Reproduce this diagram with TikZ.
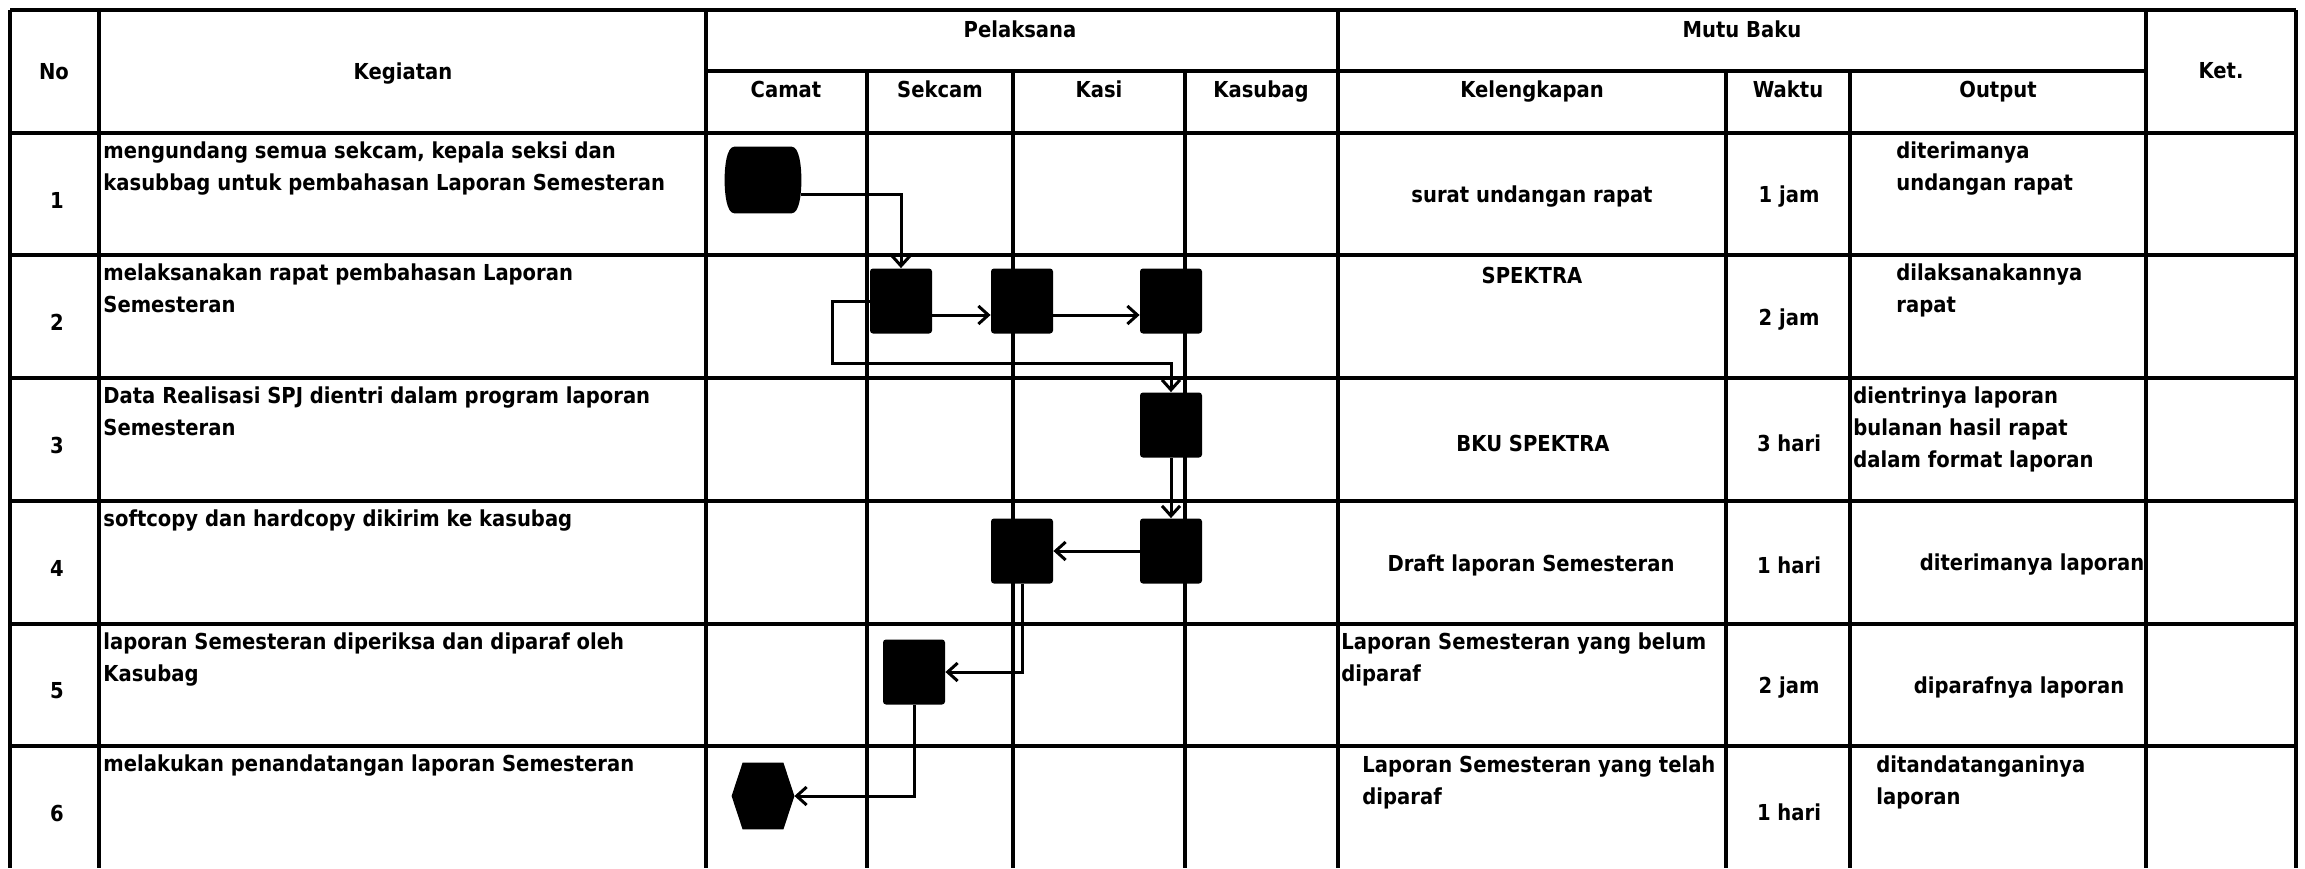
\documentclass[tikz,border=0pt]{standalone}
\usepackage{fontspec}
\setmainfont{DejaVu Sans}[FakeStretch=0.89]
\usetikzlibrary{arrows.meta}
\begin{document}
\begin{tikzpicture}[x=0.5pt,y=-0.5pt,
  grid/.style={line width=2pt},
  txt/.style={font=\fontsize{11}{16}\selectfont\bfseries, inner sep=0pt},
  btxt/.style={txt, anchor=base},
  ltxt/.style={txt, anchor=north west, align=left},
  stepbox/.style={rectangle, fill=black, rounded corners=1.5pt, minimum width=31pt, minimum height=32.5pt, inner sep=0pt},
  flow/.style={line width=1.5pt, -{Straight Barb[length=5pt,width=9pt]}},
]
\fill[white] (0,0) rectangle (2305,868);
\useasboundingbox (0,0) rectangle (2305,868);

% ---- table grid ----
\draw[grid] (10,10) -- (2296,10);
\draw[grid] (706,71) -- (2146,71);
\foreach \y in {133,255,378,501,624,746} \draw[grid] (10,\y) -- (2296,\y);
\foreach \x in {10,99,706,1338,2146,2296} \draw[grid] (\x,10) -- (\x,868);
\foreach \x in {867,1013,1185,1726,1850} \draw[grid] (\x,71) -- (\x,868);

% ---- header ----
\node[btxt] (hNo) at (54,79) {No};
\node[btxt] (hKeg) at (403,79) {Kegiatan};
\node[btxt] (hPel) at (1020,37) {Pelaksana};
\node[btxt] (hMutu) at (1742,37) {Mutu Baku};
\node[btxt] (hKet) at (2221,78) {Ket.};
\node[btxt] (hCamat) at (786,97) {Camat};
\node[btxt] (hSekcam) at (940,97) {Sekcam};
\node[btxt] (hKasi) at (1099,97) {Kasi};
\node[btxt] (hKasubag) at (1261,97) {Kasubag};
\node[btxt] (hKel) at (1532,97) {Kelengkapan};
\node[btxt] (hWaktu) at (1788,97) {Waktu};
\node[btxt] (hOut) at (1998,97) {Output};

% ---- numbers ----
\node[txt] (n1) at (57,200) {1};
\node[txt] (n2) at (57,322) {2};
\node[txt] (n3) at (57,445) {3};
\node[txt] (n4) at (57,568) {4};
\node[txt] (n5) at (57,691) {5};
\node[txt] (n6) at (57,813) {6};

% ---- kegiatan ----
\node[ltxt] (k1t) at (103,141) {mengundang semua sekcam, kepala seksi dan\\kasubbag untuk pembahasan Laporan Semesteran};
\node[ltxt] (k2t) at (103,263) {melaksanakan rapat pembahasan Laporan\\Semesteran};
\node[ltxt] (k3t) at (103,386) {Data Realisasi SPJ dientri dalam program laporan\\Semesteran};
\node[ltxt] (k4t) at (103,509) {softcopy dan hardcopy dikirim ke kasubag};
\node[ltxt] (k5t) at (103,632) {laporan Semesteran diperiksa dan diparaf oleh\\Kasubag};
\node[ltxt] (k6t) at (103,754) {melakukan penandatangan laporan Semesteran};

% ---- kelengkapan ----
\node[txt] (l1) at (1532,197) {surat undangan rapat};
\node[txt] (l2) at (1532,275) {SPEKTRA};
\node[txt] (l3) at (1533,443) {BKU SPEKTRA};
\node[txt] (l4) at (1531,565) {Draft laporan Semesteran};
\node[ltxt] (l5) at (1341,632) {Laporan Semesteran yang belum\\diparaf};
\node[ltxt] (l6) at (1362,755) {Laporan Semesteran yang telah\\diparaf};

% ---- waktu ----
\node[txt] (w1) at (1789,197) {1 jam};
\node[txt] (w2) at (1789,320) {2 jam};
\node[txt] (w3) at (1789,443) {3 hari};
\node[txt] (w4) at (1789,565) {1 hari};
\node[txt] (w5) at (1789,688) {2 jam};
\node[txt] (w6) at (1789,812) {1 hari};

% ---- output ----
\node[ltxt] (o1) at (1896,141) {diterimanya\\undangan rapat};
\node[ltxt] (o2) at (1896,263) {dilaksanakannya\\rapat};
\node[ltxt] (o3) at (1853,386) {dientrinya laporan\\bulanan hasil rapat\\dalam format laporan};
\node[txt] (o4) at (2032,565) {diterimanya laporan};
\node[txt] (o5) at (2019,688) {diparafnya laporan};
\node[ltxt] (o6) at (1876,755) {ditandatanganinya\\laporan};

% ---- flow shapes ----
\node[minimum width=38pt, minimum height=33pt, inner sep=0pt] (start) at (763,180) {};
\fill ([xshift=5pt]start.north west) -- ([xshift=-5pt]start.north east)
  .. controls ([xshift=-1pt]start.north east) and ([yshift=7pt]start.east) .. (start.east)
  .. controls ([yshift=-7pt]start.east) and ([xshift=-1pt]start.south east) .. ([xshift=-5pt]start.south east)
  -- ([xshift=5pt]start.south west)
  .. controls ([xshift=1pt]start.south west) and ([yshift=-7pt]start.west) .. (start.west)
  .. controls ([yshift=7pt]start.west) and ([xshift=1pt]start.north west) .. ([xshift=5pt]start.north west) -- cycle;
\node[stepbox] (s2) at (901,301) {};
\node[stepbox] (k2) at (1022,301) {};
\node[stepbox] (b2) at (1171,301) {};
\node[stepbox] (b3) at (1171,425) {};
\node[stepbox] (b4) at (1171,551) {};
\node[stepbox] (k4) at (1022,551) {};
\node[stepbox] (s5) at (914,672) {};
\node[minimum width=31pt, minimum height=33pt, inner sep=0pt] (hex) at (763,796) {};
\fill ([xshift=5.5pt]hex.north west) -- ([xshift=-5.5pt]hex.north east) -- (hex.east)
  -- ([xshift=-5.5pt]hex.south east) -- ([xshift=5.5pt]hex.south west) -- (hex.west) -- cycle;

% ---- connectors ----
\coordinate (loop) at (832,363);
\draw[flow] ([yshift=-7pt]start.east) -| (s2.north);
\draw[flow] ([yshift=-7pt]s2.east) -- ([yshift=-7pt]k2.west);
\draw[flow] ([yshift=-7pt]k2.east) -- ([yshift=-7pt]b2.west);
\draw[flow] (s2.west) -| (loop) -| (b3.north);
\draw[flow] (b3.south) -- (b4.north);
\draw[flow] (b4.west) -- (k4.east);
\draw[flow] (k4.south) |- (s5.east);
\draw[flow] (s5.south) |- (hex.east);
\end{tikzpicture}
\end{document}
